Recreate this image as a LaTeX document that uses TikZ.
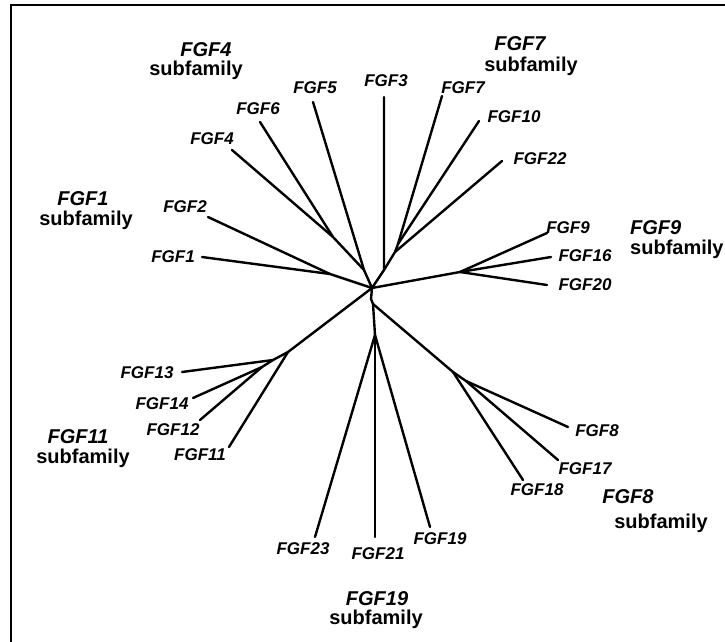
\documentclass[tikz,border=0pt]{standalone}
\usepackage{fontspec}
\setmainfont{Liberation Sans}
\begin{document}
\begin{tikzpicture}[x=1pt,y=-1pt,
  br/.style={line width=2.4pt, line join=round, line cap=round},
  leaf/.style={font=\fontsize{17}{17}\selectfont\bfseries\itshape, inner sep=0pt},
  sfa/.style={font=\fontsize{20}{20}\selectfont\bfseries\itshape, inner sep=0pt},
  sfb/.style={font=\fontsize{20}{20}\selectfont\bfseries, inner sep=0pt}]
\useasboundingbox (0,0) rectangle (725,642);
\draw[line width=2.2pt] (725,5) -- (11,5) -- (11,642);

% internal coordinates
\coordinate (C) at (372,288);
\coordinate (K) at (371,299);
\coordinate (L) at (373,304);
\coordinate (J12) at (330,274);
\coordinate (J46) at (333,237);
\coordinate (J456) at (364,270);
\coordinate (J3) at (384,270);
\coordinate (J710) at (398,244);
\coordinate (J7) at (395,252);
\coordinate (J9) at (460,272);
\coordinate (J11) at (288,352);
\coordinate (J13) at (273,360);
\coordinate (J1412) at (262,367);
\coordinate (J8) at (453,372);
\coordinate (J817) at (466,381);
\coordinate (J19) at (375,335);

% leaf ends
\coordinate (e1) at (202,257);
\coordinate (e2) at (208,217);
\coordinate (e4) at (232,150);
\coordinate (e6) at (260,122);
\coordinate (e5) at (313,102);
\coordinate (e3) at (384,97);
\coordinate (e7) at (442,96);
\coordinate (e10) at (479,121);
\coordinate (e22) at (502,161);
\coordinate (e9) at (547,233);
\coordinate (e16) at (551,257);
\coordinate (e20) at (547,285);
\coordinate (e13) at (182,372);
\coordinate (e14) at (193,398);
\coordinate (e12) at (200,420);
\coordinate (e11) at (229,447);
\coordinate (e8) at (568,427);
\coordinate (e17) at (558,460);
\coordinate (e18) at (523,480);
\coordinate (e23) at (315,537);
\coordinate (e21) at (375,537);
\coordinate (e19) at (430,527);

% branches
\draw[br] (e1) -- (J12) -- (C);
\draw[br] (e2) -- (J12);
\draw[br] (e4) -- (J46) -- (J456) -- (C);
\draw[br] (e6) -- (J46);
\draw[br] (e5) -- (J456);
\draw[br] (e3) -- (J3) -- (C);
\draw[br] (e7) -- (J710) -- (J7) -- (J3);
\draw[br] (e10) -- (J710);
\draw[br] (e22) -- (J7);
\draw[br] (e9) -- (J9) -- (C);
\draw[br] (e16) -- (J9);
\draw[br] (e20) -- (J9);
\draw[br] (C) -- (J11);
\draw[br] (e13) -- (J13) -- (J11);
\draw[br] (e14) -- (J1412) -- (J13);
\draw[br] (e12) -- (J1412);
\draw[br] (e11) -- (J11);
\draw[br] (C) -- (K) -- (L);
\draw[br] (L) -- (J8);
\draw[br] (e8) -- (J817) -- (J8);
\draw[br] (e17) -- (J817);
\draw[br] (e18) -- (J8);
\draw[br] (L) -- (J19);
\draw[br] (e23) -- (J19);
\draw[br] (e21) -- (J19);
\draw[br] (e19) -- (J19);

% leaf labels
\node[leaf] (l1) at (173,257) {FGF1};
\node[leaf] (l2) at (185,207) {FGF2};
\node[leaf] (l4) at (212,139) {FGF4};
\node[leaf] (l6) at (258,109) {FGF6};
\node[leaf] (l5) at (315,88) {FGF5};
\node[leaf] (l3) at (386,81) {FGF3};
\node[leaf] (l7) at (463,88) {FGF7};
\node[leaf] (l10) at (514,117) {FGF10};
\node[leaf] (l22) at (540,159) {FGF22};
\node[leaf] (l9) at (568,228) {FGF9};
\node[leaf] (l16) at (585,256) {FGF16};
\node[leaf] (l20) at (585,285) {FGF20};
\node[leaf] (l13) at (147,373) {FGF13};
\node[leaf] (l14) at (162,404) {FGF14};
\node[leaf] (l12) at (173,430) {FGF12};
\node[leaf] (l11) at (200,455) {FGF11};
\node[leaf] (l8) at (597,431) {FGF8};
\node[leaf] (l17) at (585,469) {FGF17};
\node[leaf] (l18) at (537,490) {FGF18};
\node[leaf] (l23) at (303,549) {FGF23};
\node[leaf] (l21) at (378,554) {FGF21};
\node[leaf] (l19) at (440,539) {FGF19};

% subfamily labels
\node[sfa] (s4a) at (206,50) {FGF4};
\node[sfb] (s4b) at (196,70) {subfamily};
\node[sfa] (s7a) at (520,44) {FGF7};
\node[sfb] (s7b) at (531,66) {subfamily};
\node[sfa] (s1a) at (83,199) {FGF1};
\node[sfb] (s1b) at (86,220) {subfamily};
\node[sfa,anchor=west] (s9a) at (630,228) {FGF9};
\node[sfb,anchor=west] (s9b) at (630,249) {subfamily};
\node[sfa] (s11a) at (78,437) {FGF11};
\node[sfb] (s11b) at (83,458) {subfamily};
\node[sfa] (s8a) at (628,497) {FGF8};
\node[sfb] (s8b) at (661,523) {subfamily};
\node[sfa] (s19a) at (377,599) {FGF19};
\node[sfb] (s19b) at (376,619) {subfamily};
\end{tikzpicture}
\end{document}
